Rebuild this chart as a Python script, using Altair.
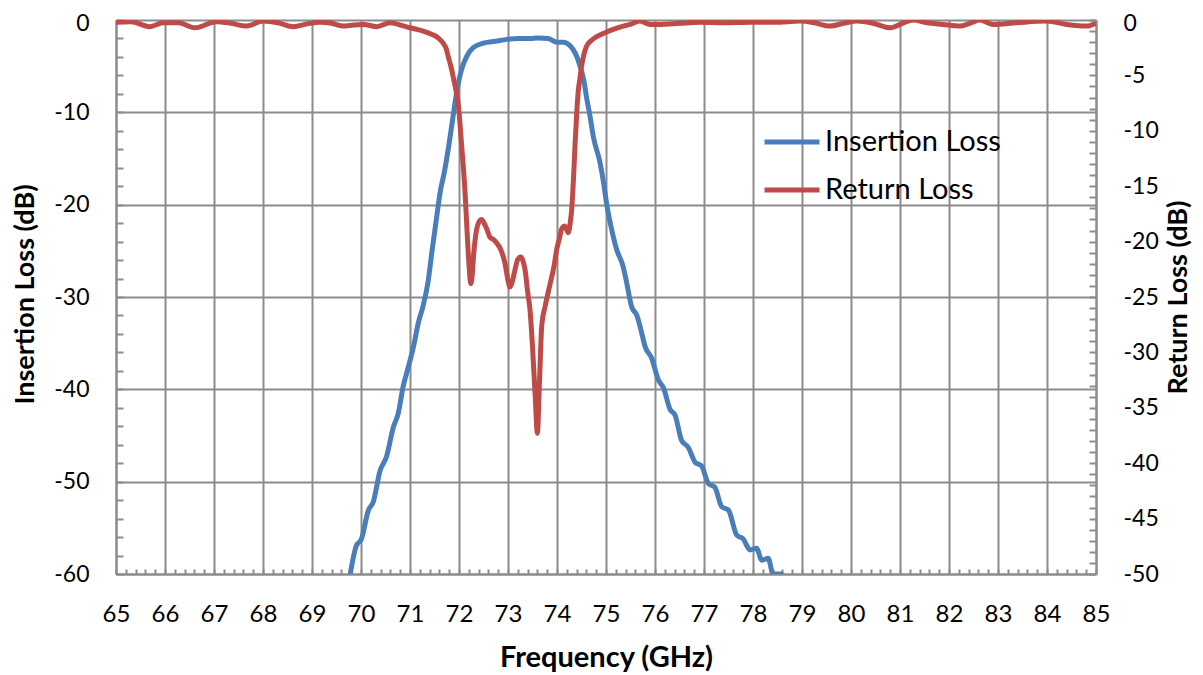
import altair as alt
import pandas as pd

# Insertion loss (left axis, dB)
il_freq = [69.78, 69.90, 70.01, 70.15, 70.25, 70.39, 70.52, 70.66, 70.76, 70.86,
           70.97, 71.07, 71.17, 71.27, 71.37, 71.45, 71.54, 71.62, 71.70, 71.78,
           71.88, 71.95, 72.05, 72.16, 72.29, 72.50, 72.75, 72.97, 73.20, 73.45,
           73.62, 73.82, 74.00, 74.13, 74.25, 74.33, 74.40, 74.47, 74.55, 74.60,
           74.67, 74.74, 74.88, 74.95, 75.01, 75.10, 75.22, 75.35, 75.42, 75.52,
           75.63, 75.71, 75.80, 75.93, 76.07, 76.17, 76.31, 76.41, 76.54, 76.68,
           76.82, 76.95, 77.09, 77.22, 77.36, 77.50, 77.67, 77.80, 77.94, 78.07,
           78.18, 78.31, 78.41, 78.62]
il_db = [-60.0, -57.0, -56.2, -53.1, -52.2, -48.8, -47.3, -44.1, -42.6, -39.7,
         -37.5, -35.4, -32.8, -30.9, -28.3, -25.0, -21.5, -18.5, -16.5, -14.0,
         -10.4, -7.9, -5.4, -3.9, -3.0, -2.5, -2.3, -2.1, -2.0, -2.0,
         -1.95, -2.0, -2.4, -2.4, -2.7, -3.2, -3.9, -5.0, -6.6, -8.3,
         -10.3, -12.6, -15.5, -17.6, -19.8, -22.3, -24.9, -26.7, -28.4, -31.0,
         -32.0, -33.5, -35.4, -36.6, -39.0, -39.8, -42.2, -42.8, -45.5, -46.3,
         -47.9, -48.3, -50.2, -50.6, -52.7, -53.1, -55.8, -56.2, -57.4, -57.2,
         -58.5, -58.3, -60.0, -60.0]

# Return loss (right axis, dB)
rl_freq = [65.00, 65.30, 65.69, 65.96, 66.27, 66.61, 67.05, 67.35, 67.67, 68.00,
           68.30, 68.62, 68.90, 69.16, 69.40, 69.64, 69.85, 70.05, 70.32, 70.59,
           70.80, 71.00, 71.27, 71.45, 71.54, 71.62, 71.68, 71.74, 71.78, 71.83,
           71.88, 71.94, 71.99, 72.05, 72.12, 72.17, 72.21, 72.24, 72.27, 72.29,
           72.36, 72.41, 72.46, 72.52, 72.57, 72.63, 72.70, 72.78, 72.84, 72.94,
           73.00, 73.04, 73.09, 73.14, 73.20, 73.26, 73.31, 73.35, 73.40, 73.45,
           73.50, 73.55, 73.60, 73.64, 73.69, 73.76, 73.86, 73.94, 73.99, 74.05,
           74.10, 74.16, 74.23, 74.27, 74.30, 74.34, 74.37, 74.40, 74.43, 74.47,
           74.50, 74.55, 74.60, 74.70, 74.81, 74.98, 75.15, 75.32, 75.49, 75.69,
           75.90, 76.10, 76.50, 76.92, 77.40, 77.94, 78.45, 78.96, 79.25, 79.57,
           79.85, 80.12, 80.45, 80.80, 81.05, 81.27, 81.55, 81.88, 82.22, 82.45,
           82.63, 82.90, 83.38, 83.99, 84.40, 84.81, 85.00]
rl_db = [-0.2, -0.15, -0.6, -0.25, -0.25, -0.7, -0.15, -0.3, -0.55, -0.1,
         -0.25, -0.6, -0.35, -0.2, -0.3, -0.55, -0.45, -0.4, -0.6, -0.25,
         -0.45, -0.7, -1.0, -1.3, -1.5, -1.8, -2.1, -2.6, -3.3, -4.1,
         -5.1, -6.4, -7.8, -11.1, -15.3, -19.5, -22.5, -23.8, -23.0, -21.7,
         -18.9, -18.2, -18.0, -18.4, -18.9, -19.6, -19.8, -20.2, -20.6, -22.0,
         -23.5, -24.1, -23.6, -22.6, -21.6, -21.4, -21.8, -22.6, -24.5, -26.2,
         -29.5, -33.5, -37.3, -33.0, -27.5, -25.8, -23.8, -22.2, -20.8, -19.7,
         -18.8, -18.6, -19.2, -18.3, -17.1, -14.0, -11.1, -8.6, -6.6, -5.2,
         -4.2, -3.1, -2.4, -1.85, -1.5, -1.15, -0.85, -0.6, -0.4, -0.1,
         -0.4, -0.4, -0.3, -0.2, -0.25, -0.2, -0.2, -0.1, -0.25, -0.55,
         -0.3, -0.1, -0.3, -0.7, -0.3, 0.0, -0.25, -0.4, -0.55, -0.25,
         0.0, -0.4, -0.25, -0.1, -0.4, -0.55, -0.3]

series_names = ["Insertion Loss", "Return Loss"]
series_colors = ["#4A7EBB", "#BE4B48"]

x_major = list(range(65, 86))
x_minor = [round(65 + 0.2 * i, 1) for i in range(101)]
yl_major = list(range(-60, 1, 10))
yl_minor = list(range(-60, 1, 2))
yr_major = list(range(-50, 1, 5))
yr_minor = list(range(-50, 1, 1))

il_df = pd.DataFrame({"freq": il_freq, "val": il_db, "series": series_names[0]})
rl_df = pd.DataFrame({"freq": rl_freq, "val": rl_db, "series": series_names[1]})

W, H = 980, 554
FONT = "Lato"
GRAY = "#8C8C8C"
LABEL_EXPR = "'' + datum.value"
# nudge the topmost "0" label down a few pixels so it stays inside the page
TOP_LABEL_OFFSET = {"condition": {"test": "datum.value == 0", "value": 3}, "value": 0}

xscale = alt.Scale(domain=[65, 85], nice=False, zero=False)
ylscale = alt.Scale(domain=[-60, 0], nice=False, zero=False)
yrscale = alt.Scale(domain=[-50, 0], nice=False, zero=False)
cscale = alt.Scale(domain=series_names, range=series_colors)

legend = alt.Legend(
    title=None, orient="none", legendX=646, legendY=98,
    symbolType="stroke", symbolSize=3025, symbolStrokeWidth=5,
    labelFont=FONT, labelFontSize=29, labelColor="#000000", labelOffset=3,
    labelLimit=400, clipHeight=48, rowPadding=0,
)

x_main_axis = alt.Axis(
    values=x_major, grid=True, gridColor=GRAY, gridWidth=2, ticks=False,
    domainColor=GRAY, domainWidth=2, labelFont=FONT, labelFontSize=24,
    labelColor="#000000", labelPadding=28, labelFlush=False,
    labelExpr=LABEL_EXPR,
    title="Frequency (GHz)", titleFont=FONT, titleFontSize=29,
    titleFontWeight="bold", titleColor="#000000", titlePadding=17,
)
x_minor_axis = alt.Axis(
    orient="top", offset=-H, values=x_minor, labels=False, domain=False,
    grid=False, ticks=True, tickSize=5, tickColor=GRAY, tickWidth=2, title=None,
)

yl_axis = alt.Axis(
    orient="left", values=yl_major, grid=True, gridColor=GRAY, gridWidth=2,
    ticks=False, domainColor=GRAY, domainWidth=2, labelFont=FONT,
    labelFontSize=23, labelColor="#000000", labelPadding=27, labelFlush=False,
    labelExpr=LABEL_EXPR, labelOffset=TOP_LABEL_OFFSET,
    title="Insertion Loss (dB)", titleFont=FONT, titleFontSize=27,
    titleFontWeight="bold", titleColor="#000000", titleAngle=270,
    titleX=-91, titleY=H / 2 - 3, titleBaseline="middle", titleAlign="center",
)
yr_axis = alt.Axis(
    orient="right", values=yr_major, grid=False, ticks=False,
    domainColor=GRAY, domainWidth=2, labelFont=FONT, labelFontSize=23,
    labelColor="#000000", labelPadding=27, labelFlush=False,
    labelExpr=LABEL_EXPR, labelOffset=TOP_LABEL_OFFSET,
    title="Return Loss (dB)", titleFont=FONT, titleFontSize=27,
    titleFontWeight="bold", titleColor="#000000", titleAngle=270,
    titleX=82, titleY=H / 2, titleBaseline="middle", titleAlign="center",
)
yl_minor_axis = alt.Axis(
    orient="right", offset=-W, values=yl_minor, labels=False, domain=False,
    grid=False, ticks=True, tickSize=7, tickColor=GRAY, tickWidth=2, title=None,
)
yr_minor_axis = alt.Axis(
    orient="left", offset=-W, values=yr_minor, labels=False, domain=False,
    grid=False, ticks=True, tickSize=7, tickColor=GRAY, tickWidth=2, title=None,
)

il_line = alt.Chart(il_df).mark_line(
    strokeWidth=5, interpolate="monotone", clip=True
).encode(
    x=alt.X("freq:Q", scale=xscale, axis=x_main_axis),
    y=alt.Y("val:Q", scale=ylscale, axis=yl_axis),
    color=alt.Color("series:N", scale=cscale, legend=legend),
)

rl_line = alt.Chart(rl_df).mark_line(
    strokeWidth=5, interpolate="monotone", clip=True
).encode(
    x=alt.X("freq:Q", scale=xscale, axis=x_minor_axis),
    y=alt.Y("val:Q", scale=yrscale, axis=yr_axis),
    color=alt.Color("series:N", scale=cscale, legend=legend),
)

yl_ticks = alt.Chart(il_df).mark_line(opacity=0).encode(
    x=alt.X("freq:Q", scale=xscale, axis=None),
    y=alt.Y("val:Q", scale=ylscale, axis=yl_minor_axis),
)
yr_ticks = alt.Chart(rl_df).mark_line(opacity=0).encode(
    x=alt.X("freq:Q", scale=xscale, axis=None),
    y=alt.Y("val:Q", scale=yrscale, axis=yr_minor_axis),
)

chart = alt.layer(yl_ticks, yr_ticks, il_line, rl_line).resolve_scale(
    y="independent"
).resolve_axis(
    x="independent", y="independent"
).properties(
    width=W, height=H,
    autosize=alt.AutoSizeParams(type="none"),
    padding={"left": 108, "top": 12, "right": 99, "bottom": 100},
).configure_view(
    stroke=None
).configure(
    background="#FFFFFF"
)

chart.save("out.html", embed_options={"renderer": "svg", "actions": False})
